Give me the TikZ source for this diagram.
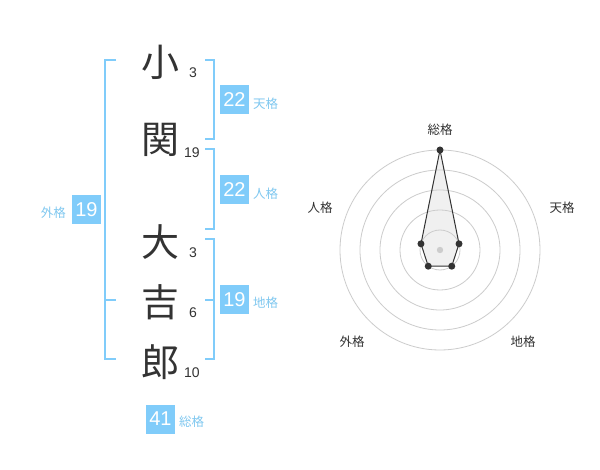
\documentclass[tikz,border=0pt]{standalone}
\usepackage{fontspec}
\usetikzlibrary{calc}
\setmainfont{Liberation Sans}
\newfontfamily\cjk{Noto Sans CJK JP}
\definecolor{bl}{RGB}{128,204,250}
\definecolor{bltext}{RGB}{128,200,240}
\definecolor{dk}{RGB}{51,51,51}
\definecolor{ring}{RGB}{204,204,204}
\begin{document}
\begin{tikzpicture}[x=1pt,y=-1pt,
  kanji/.style={inner sep=0pt,font=\cjk\fontsize{38}{38}\selectfont,text=dk},
  strokes/.style={inner sep=0pt,font=\fontsize{14}{14}\selectfont,text=dk},
  valbox/.style={fill=bl,minimum width=29pt,minimum height=29pt,inner sep=0pt,text=white,font=\fontsize{20}{20}\selectfont},
  kaku/.style={inner sep=0pt,font=\cjk\fontsize{12.5}{12.5}\selectfont,text=bltext},
  brk/.style={draw=bl,line width=2pt},
  radlab/.style={inner sep=0pt,font=\cjk\fontsize{12.5}{12.5}\selectfont,text=dk},
  dot/.style={circle,fill=dk,inner sep=0pt,minimum size=7pt}]
\useasboundingbox (0,0) rectangle (600,470);
\fill[white] (0,0) rectangle (600,470);
% characters
\node[kanji] (k1) at (160,62) {小};
\node[kanji] (k2) at (160,140) {関};
\node[kanji] (k3) at (160,242) {大};
\node[kanji] (k4) at (160,302) {吉};
\node[kanji] (k5) at (160,362) {郎};
\node[strokes] (s1) at (193,73) {3};
\node[strokes] (s2) at (192,153) {19};
\node[strokes] (s3) at (193,253) {3};
\node[strokes] (s4) at (193,313) {6};
\node[strokes] (s5) at (192,373) {10};
% brackets
\draw[brk] (116,60) -- (105,60) -- (105,359) -- (116,359);
\draw[brk] (105,300) -- (116,300);
\draw[brk] (205,60) -- (214,60) -- (214,139) -- (205,139);
\draw[brk] (205,149) -- (214,149) -- (214,229) -- (205,229);
\draw[brk] (205,239) -- (214,239) -- (214,359) -- (205,359);
\draw[brk] (205,300) -- (214,300);
% boxes
\node[valbox] (ten) at (234.5,100) {22};
\node[kaku,anchor=west] (tenl) at (253,104) {天格};
\node[valbox] (jin) at (234.5,190) {22};
\node[kaku,anchor=west] (jinl) at (253,194) {人格};
\node[valbox] (chi) at (234.5,300) {19};
\node[kaku,anchor=west] (chil) at (253,303) {地格};
\node[valbox] (gai) at (86.5,210) {19};
\node[kaku,anchor=east] (gail) at (66,213) {外格};
\node[valbox] (sou) at (160.5,419) {41};
\node[kaku,anchor=west] (soul) at (179,422) {総格};
% radar
\coordinate (c) at (440,250);
\coordinate (p1) at ($(c)+(-90:100)$);
\coordinate (p2) at ($(c)+(-18:20)$);
\coordinate (p3) at ($(c)+(54:20)$);
\coordinate (p4) at ($(c)+(126:20)$);
\coordinate (p5) at ($(c)+(-162:20)$);
\fill[black!6] (p1) -- (p2) -- (p3) -- (p4) -- (p5) -- cycle;
\foreach \r in {20,40,60,80,100} \draw[ring,line width=0.8pt] (c) circle[radius=\r];
\fill[ring] (c) circle[radius=3.2];
\draw[dk,line width=1pt] (p1) -- (p2) -- (p3) -- (p4) -- (p5) -- cycle;
\foreach \p in {p1,p2,p3,p4,p5} \node[dot] at (\p) {};
\node[radlab] (r1) at (440,130) {総格};
\node[radlab] (r2) at (562,208) {天格};
\node[radlab] (r3) at (320,208) {人格};
\node[radlab] (r4) at (352,342) {外格};
\node[radlab] (r5) at (523,342) {地格};
\end{tikzpicture}
\end{document}
